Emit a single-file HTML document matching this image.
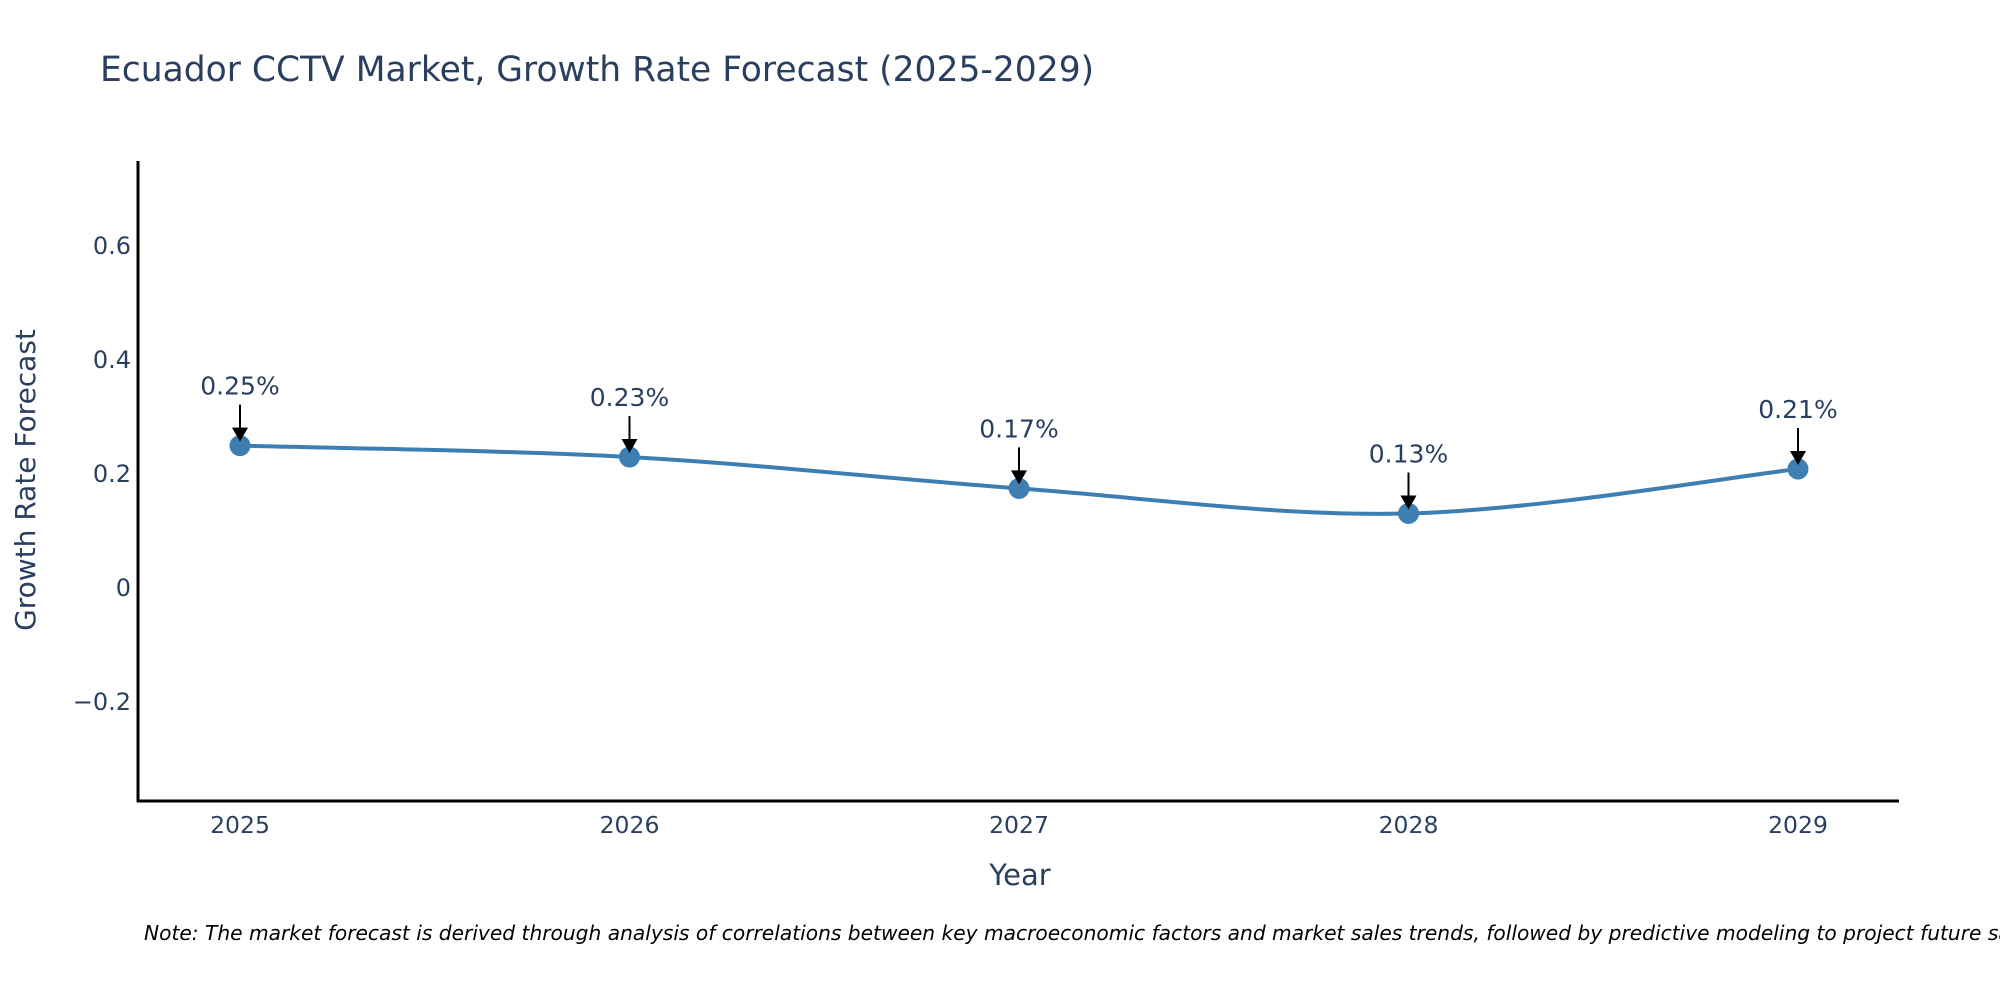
<!DOCTYPE html>
<html><head><meta charset="utf-8"><style>
body{margin:0;background:#fff;}
svg text{font-family:"DejaVu Sans","Liberation Sans",sans-serif;fill:#2a3f5f;}
</style></head><body>
<svg id="chart" width="2000" height="1000" xmlns="http://www.w3.org/2000/svg">
<text x="100" y="81" font-size="34.5">Ecuador CCTV Market, Growth Rate Forecast (2025-2029)</text>
<g id="yticks"></g>
<g id="xticks"></g>
<path id="line" fill="none" stroke="#3d7fb3" stroke-width="4"></path>
<g id="marks"></g>
<g id="annots"></g>
<line x1="138" y1="161" x2="138" y2="802" stroke="#000" stroke-width="3"/>
<line x1="137" y1="801" x2="1899" y2="801" stroke="#000" stroke-width="3"/>
<text x="1020" y="885" font-size="29" text-anchor="middle">Year</text>
<text transform="translate(35,480) rotate(-90)" font-size="28" text-anchor="middle">Growth Rate Forecast</text>
<text x="144" y="940" font-size="20.2" font-style="italic" style="fill:#000">Note: The market forecast is derived through analysis of correlations between key macroeconomic factors and market sales trends, followed by predictive modeling to project future sales.</text>
</svg>
<script>
const years=[2025,2026,2027,2028,2029];
const values=[0.248,0.228,0.173,0.129,0.207];
const labels=["0.25%","0.23%","0.17%","0.13%","0.21%"];
const yTickVals=[-0.2,0,0.2,0.4,0.6];
const yTickLabels=["\u22120.2","0","0.2","0.4","0.6"];
const NS="http://www.w3.org/2000/svg";
const X=v=>240+(v-2025)*389.5;
const Y=v=>587-v*570;
function mk(t,a,p){const e=document.createElementNS(NS,t);for(const k in a)e.setAttribute(k,a[k]);p.appendChild(e);return e;}
const yt=document.getElementById('yticks');
yTickVals.forEach((v,i)=>{const t=mk('text',{x:131,y:Y(v)+9,'font-size':24,'text-anchor':'end'},yt);


t.textContent=yTickLabels[i];});
const xt=document.getElementById('xticks');
years.forEach(y=>{const t=mk('text',{x:X(y),y:833,'font-size':23.5,'text-anchor':'middle'},xt);


t.textContent=y;});
const pts=years.map((y,i)=>[X(y),Y(values[i])]);
let d=`M${pts[0][0]},${pts[0][1]}`;
for(let i=0;i<pts.length-1;i++){const p0=pts[Math.max(0,i-1)],p1=pts[i],p2=pts[i+1],p3=pts[Math.min(pts.length-1,i+2)];
const c1=[p1[0]+(p2[0]-p0[0])/6,p1[1]+(p2[1]-p0[1])/6],c2=[p2[0]-(p3[0]-p1[0])/6,p2[1]-(p3[1]-p1[1])/6];
d+=` C${c1[0]},${c1[1]} ${c2[0]},${c2[1]} ${p2[0]},${p2[1]}`;}
document.getElementById('line').setAttribute('d',d);
const mg=document.getElementById('marks'),ag=document.getElementById('annots');
pts.forEach((p,i)=>{const c=mk('circle',{cx:p[0],cy:p[1],r:10.5,fill:'#3d7fb3'},mg);


const l=mk('line',{x1:p[0],y1:p[1]-41,x2:p[0],y2:p[1]-16},ag);
l.setAttribute('stroke','#000');
l.setAttribute('stroke-width','2');


const h=mk('path',{d:`M${p[0]-8},${p[1]-18} L${p[0]+8},${p[1]-18} L${p[0]},${p[1]-4} Z`,fill:'#000'},ag);


const t=mk('text',{x:p[0],y:p[1]-51,'font-size':25,'text-anchor':'middle'},ag);


t.textContent=labels[i];});
</script>
</body></html>
